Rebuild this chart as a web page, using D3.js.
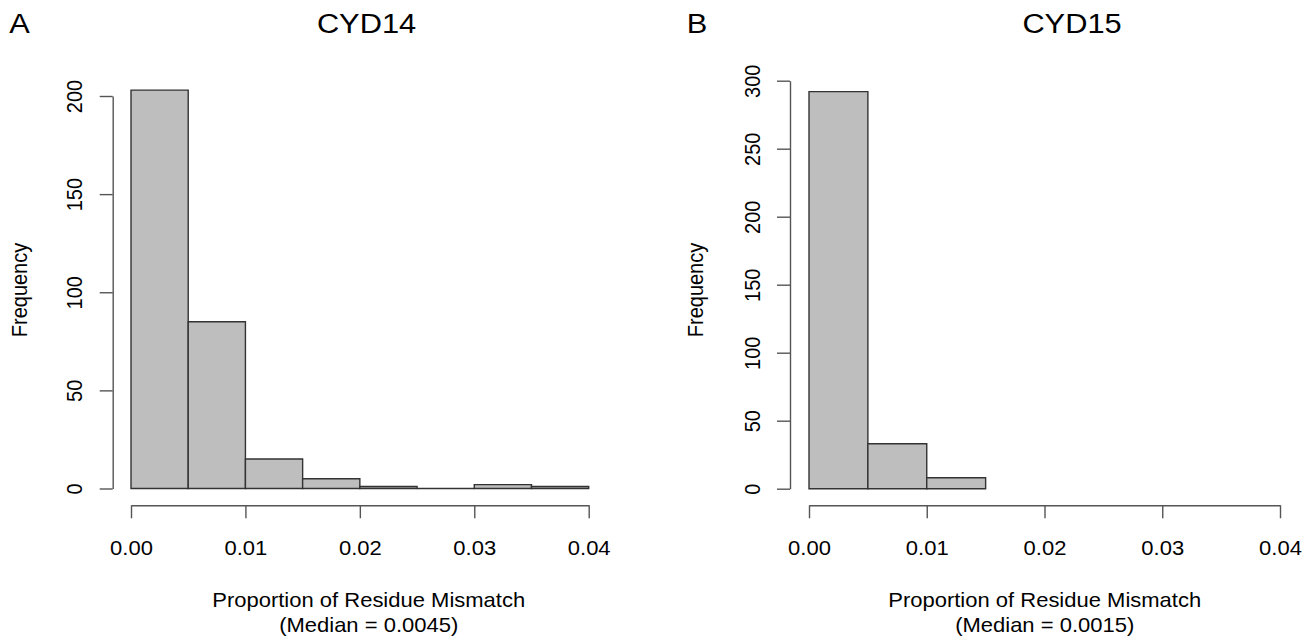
<!DOCTYPE html>
<html>
<head>
<meta charset="utf-8">
<script src="https://cdn.jsdelivr.net/npm/d3@7"></script>
<style>
  body { margin: 0; background: #fff; }
  svg text { font-family: "Liberation Sans", Arial, Helvetica, sans-serif; fill: #000; }
</style>
</head>
<body>
<div id="chart"></div>
<script>
// histogram bins (Proportion of Residue Mismatch)
const binEdges = [0, 0.005, 0.010, 0.015, 0.020, 0.025, 0.030, 0.035, 0.040];
const cyd14Counts = [203, 85, 15, 5, 1, 0, 2, 1];
const cyd15Counts = [292, 33, 8];
const xTicks = [0, 0.01, 0.02, 0.03, 0.04];
const yTicks14 = [0, 50, 100, 150, 200];
const yTicks15 = [0, 50, 100, 150, 200, 250, 300];
const panelLetters = ["A", "B"];
const panelTitles = ["CYD14", "CYD15"];
const medianLabels = ["(Median = 0.0045)", "(Median = 0.0015)"];

const W = 1315, H = 640;
const sx = 1.1; // the reference is stretched a bit horizontally

const svg = d3.select('#chart').append('svg')
  .attr('width', W)
  .attr('height', H);

svg.append('rect').attr('width', W).attr('height', H).attr('fill', '#fff');

// panel layout
const panels = [
  { counts: cyd14Counts, yTicks: yTicks14, x0: 131, x1: 588.7, yAxisX: 112.7, yBottom: 488.5, yTop: 96,
    letterX: 9.3, titleX: 366.5, labelX: 368.7, freqX: 27 },
  { counts: cyd15Counts, yTicks: yTicks15, x0: 809, x1: 1280, yAxisX: 790, yBottom: 488.7, yTop: 80.7,
    letterX: 686.7, titleX: 1072, labelX: 1044.7, freqX: 703 }
];

const xAxisY = 505.3;
const tickLen = 13;

function stretchedText(g, x, y, txt, size, anchor, rotate) {
  return g.append('text')
    .attr('transform', `translate(${x},${y}) scale(${sx},1)` + (rotate ? ' rotate(-90)' : ''))
    .attr('text-anchor', anchor)
    .style('font-size', size + 'px')
    .text(txt);
}

panels.forEach((p, i) => {
  const g = svg.append('g');

  let x = d3.scaleLinear().domain([0, 0.04]).range([p.x0, p.x1]);
  let y = d3.scaleLinear().domain([0, d3.max(p.yTicks)]).range([p.yBottom, p.yTop]);

  // bars
  const bins = p.counts.map((c, k) => ({ lo: binEdges[k], hi: binEdges[k + 1], n: c }));
  g.selectAll('path.bar')
    .data(bins)
    .join('path')
    .attr('class', 'bar')
    .attr('d', d => `M${x(d.lo)},${y(0)}V${y(d.n)}H${x(d.hi)}V${y(0)}Z`)
    .attr('fill', '#bebebe')
    .attr('stroke', '#333')
    .attr('stroke-width', 1.4);

  // x axis
  const xa = g.append('g')
    .attr('transform', `translate(0,${xAxisY})`)
    .call(d3.axisBottom(x).tickValues(xTicks).tickFormat(d3.format('.2f'))
      .tickSize(tickLen).tickSizeOuter(0));
  xa.select('.domain').attr('stroke', '#555').attr('stroke-width', 1.4);
  xa.selectAll('.tick line').attr('stroke', '#555').attr('stroke-width', 1.4);
  xa.selectAll('.tick text')
    .attr('y', null).attr('dy', null)
    .attr('fill', '#000')
    .style('font-size', '20px')
    .attr('transform', `translate(0,${554.5 - xAxisY}) scale(${sx},1)`);

  // y axis
  const ya = g.append('g')
    .attr('transform', `translate(${p.yAxisX},0)`)
    .call(d3.axisLeft(y).tickValues(p.yTicks).tickFormat(d3.format('d'))
      .tickSize(tickLen).tickSizeOuter(0));
  ya.select('.domain').attr('stroke', '#555').attr('stroke-width', 1.4);
  ya.selectAll('.tick line').attr('stroke', '#555').attr('stroke-width', 1.4);
  ya.selectAll('.tick text')
    .attr('x', null).attr('dy', null)
    .attr('fill', '#000')
    .attr('text-anchor', 'middle')
    .style('font-size', '20px')
    .attr('transform', `translate(-30.5,0) scale(${sx},1) rotate(-90)`);

  // titles
  stretchedText(g, p.letterX, 33.3, panelLetters[i], 28, 'start');
  stretchedText(g, p.titleX, 33.3, panelTitles[i], 28, 'middle');

  // axis labels
  stretchedText(g, p.freqX, 290, 'Frequency', 20, 'middle', true);
  stretchedText(g, p.labelX, 606.7, 'Proportion of Residue Mismatch', 20, 'middle');
  stretchedText(g, p.labelX, 632, medianLabels[i], 20, 'middle');
});
</script>
</body>
</html>
